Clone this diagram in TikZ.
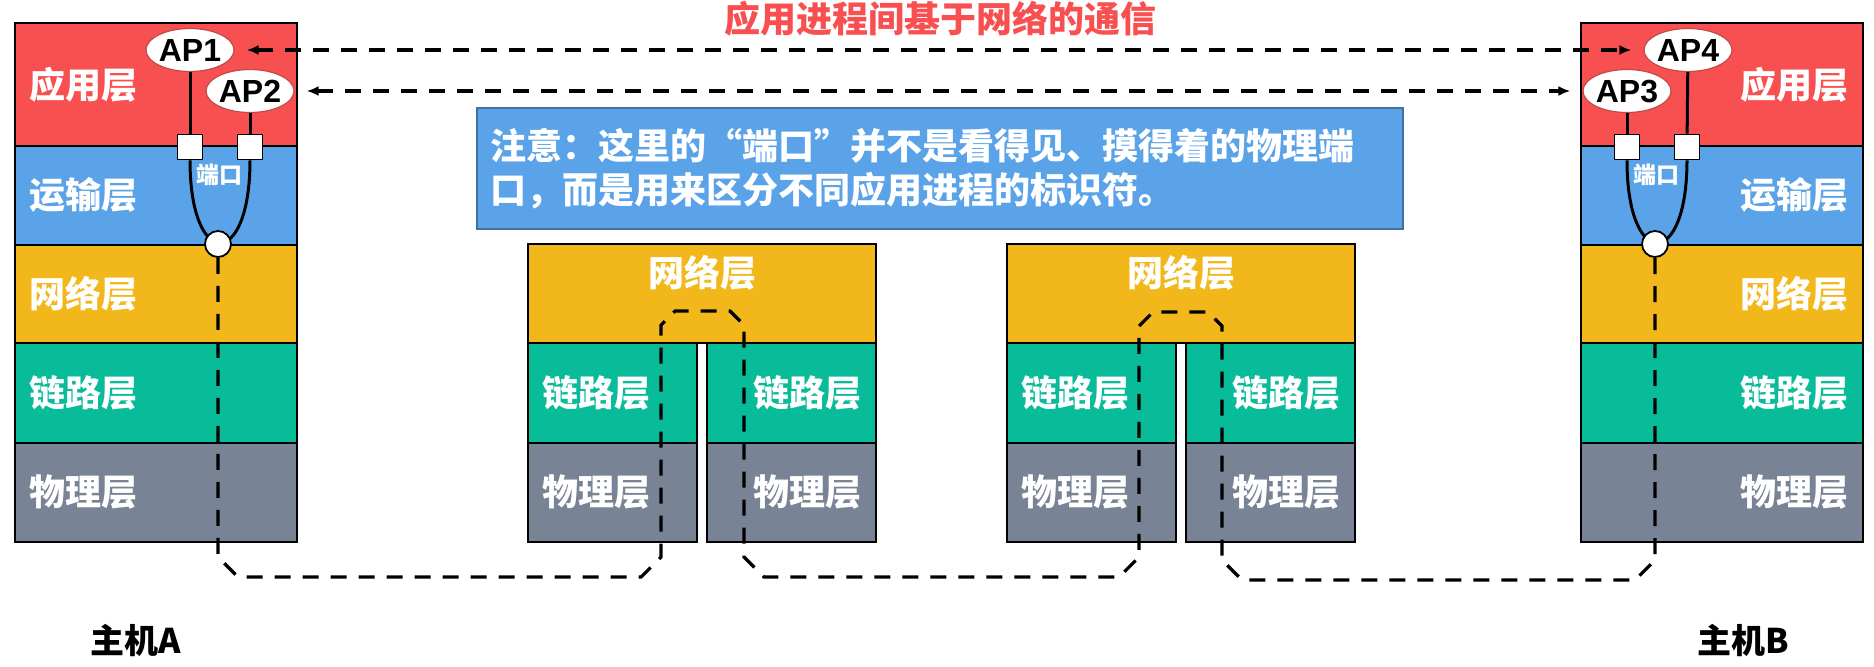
\documentclass[tikz,border=0pt]{standalone}
\usepackage{fontspec}
\newfontfamily\cjk{Noto Sans CJK SC}
\newfontfamily\lat{Liberation Sans}
\usetikzlibrary{shapes.geometric,arrows.meta}
\definecolor{appc}{RGB}{248,80,80}
\definecolor{trac}{RGB}{91,163,232}
\definecolor{netc}{RGB}{242,184,27}
\definecolor{linc}{RGB}{8,188,154}
\definecolor{phyc}{RGB}{120,132,149}
\definecolor{notebd}{RGB}{65,113,156}
\definecolor{apbd}{RGB}{190,75,72}
\newcommand{\oq}{\makebox[1em][r]{“}}
\newcommand{\cq}{\makebox[1em][l]{”}}
\begin{document}
\begin{tikzpicture}[x=0.5pt,y=-0.5pt,
 box/.style={draw=black,line width=0.9pt},
 lay/.style={font=\cjk\bfseries\fontsize{18pt}{20pt}\selectfont, text=white, inner sep=0pt},
 ap/.style={ellipse, draw=apbd, line width=0.6pt, fill=white, minimum width=37.5pt, minimum height=21.5pt, inner sep=0pt, font=\lat\bfseries\fontsize{16pt}{18pt}\selectfont},
 port/.style={draw=black, line width=0.9pt, fill=white, minimum size=12.5pt, inner sep=0pt},
 sock/.style={circle, draw=black, line width=0.9pt, fill=white, minimum size=13pt, inner sep=0pt},
 wire/.style={line width=1.5pt},
 netpath/.style={line width=1.6pt, dash pattern=on 8pt off 6pt},
 comm/.style={netpath, {Latex[length=6pt,width=5pt]}-{Latex[length=6pt,width=5pt]}, shorten <=6pt, shorten >=6pt},
 portlbl/.style={font=\cjk\bfseries\fontsize{11.5pt}{12pt}\selectfont, text=white, inner sep=0pt},
 host/.style={font=\cjk\bfseries\fontsize{17pt}{19pt}\selectfont, text=black, inner sep=0pt}
]
\useasboundingbox (0,0) rectangle (1874,666);

% ---------- Host A ----------
\draw[box,fill=appc] (15,23) rectangle (297,146);
\draw[box,fill=trac] (15,146) rectangle (297,245);
\draw[box,fill=netc] (15,245) rectangle (297,343);
\draw[box,fill=linc] (15,343) rectangle (297,443);
\draw[box,fill=phyc] (15,443) rectangle (297,542);
\node[lay,anchor=west] (a1) at (29,85) {应用层};
\node[lay,anchor=west] (a2) at (29,195) {运输层};
\node[lay,anchor=west] (a3) at (29,294) {网络层};
\node[lay,anchor=west] (a4) at (29,393) {链路层};
\node[lay,anchor=west] (a5) at (29,492) {物理层};

% ---------- Host B ----------
\draw[box,fill=appc] (1581,23) rectangle (1863,146);
\draw[box,fill=trac] (1581,146) rectangle (1863,245);
\draw[box,fill=netc] (1581,245) rectangle (1863,343);
\draw[box,fill=linc] (1581,343) rectangle (1863,443);
\draw[box,fill=phyc] (1581,443) rectangle (1863,542);
\node[lay,anchor=east] (b1) at (1849,85) {应用层};
\node[lay,anchor=east] (b2) at (1849,195) {运输层};
\node[lay,anchor=east] (b3) at (1849,294) {网络层};
\node[lay,anchor=east] (b4) at (1849,393) {链路层};
\node[lay,anchor=east] (b5) at (1849,492) {物理层};

% ---------- Router 1 ----------
\draw[box,fill=netc] (528,244) rectangle (876,343);
\draw[box,fill=linc] (528,343) rectangle (697,443);
\draw[box,fill=phyc] (528,443) rectangle (697,542);
\draw[box,fill=linc] (707,343) rectangle (876,443);
\draw[box,fill=phyc] (707,443) rectangle (876,542);
\node[lay] (r1n) at (702,273) {网络层};
\node[lay,anchor=west] (r1l) at (542,393) {链路层};
\node[lay,anchor=west] (r1p) at (542,492) {物理层};
\node[lay,anchor=east] (r1l2) at (862,393) {链路层};
\node[lay,anchor=east] (r1p2) at (862,492) {物理层};

% ---------- Router 2 ----------
\draw[box,fill=netc] (1007,244) rectangle (1355,343);
\draw[box,fill=linc] (1007,343) rectangle (1176,443);
\draw[box,fill=phyc] (1007,443) rectangle (1176,542);
\draw[box,fill=linc] (1186,343) rectangle (1355,443);
\draw[box,fill=phyc] (1186,443) rectangle (1355,542);
\node[lay] (r2n) at (1181,273) {网络层};
\node[lay,anchor=west] (r2l) at (1021,393) {链路层};
\node[lay,anchor=west] (r2p) at (1021,492) {物理层};
\node[lay,anchor=east] (r2l2) at (1341,393) {链路层};
\node[lay,anchor=east] (r2p2) at (1341,492) {物理层};

% ---------- Host A processes ----------
\node[ap] (ap1) at (190,50) {AP1};
\node[ap] (ap2) at (250,91) {AP2};
\node[port] (p1) at (190,147) {};
\node[port] (p2) at (250,147) {};
\draw[wire] (ap1) -- (p1);
\draw[wire] (ap2) -- (p2);
\draw[wire] (p1.south) .. controls +(0,110) and +(0,110) .. (p2.south);
\node[sock] (sA) at (218,244) {};
\node[portlbl] (pl1) at (219,175) {端口};

% ---------- Host B processes ----------
\node[ap] (ap4) at (1688,50) {AP4};
\node[ap] (ap3) at (1627,91) {AP3};
\node[port] (p3) at (1627,147) {};
\node[port] (p4) at (1687,147) {};
\draw[wire] (ap3) -- (p3);
\draw[wire] (ap4) -- (p4);
\draw[wire] (p3.south) .. controls +(0,110) and +(0,110) .. (p4.south);
\node[sock] (sB) at (1655,244) {};
\node[portlbl] (pl2) at (1656,175) {端口};

% ---------- data path ----------
\draw[netpath] (sA.south) -- (218,557) -- (238,577) -- (641,577) -- (661,557)
  -- (661,325) -- (675,311) -- (730,311) -- (744,325) -- (744,557) -- (764,577)
  -- (1119,577) -- (1139,557) -- (1139,326) -- (1153,312) -- (1208,312) -- (1222,326)
  -- (1222,560) -- (1242,580) -- (1635,580) -- (1655,560) -- (sB.south);

% ---------- logical communication ----------
\draw[comm] (ap1) -- (ap4);
\draw[comm] (ap2) -- (ap3);

% ---------- title ----------
\node[font=\cjk\bfseries\fontsize{18pt}{20pt}\selectfont, text=appc, inner sep=0pt] (title) at (940,19)
  {应用进程间基于网络的通信};

% ---------- note ----------
\draw[fill=trac, draw=notebd, line width=1pt] (477,108) rectangle (1403,229);
\node[anchor=west, align=left, inner sep=0pt, text=white,
  font=\cjk\bfseries\fontsize{18pt}{22pt}\selectfont] (note) at (490,169)
  {注意：这里的\oq 端口\cq 并不是看得见、摸得着的物理端\\
   口，而是用来区分不同应用进程的标识符。};

% ---------- host labels ----------
\node[host] (hA) at (136,640) {主机A};
\node[host] (hB) at (1743,640) {主机B};
\end{tikzpicture}
\end{document}
